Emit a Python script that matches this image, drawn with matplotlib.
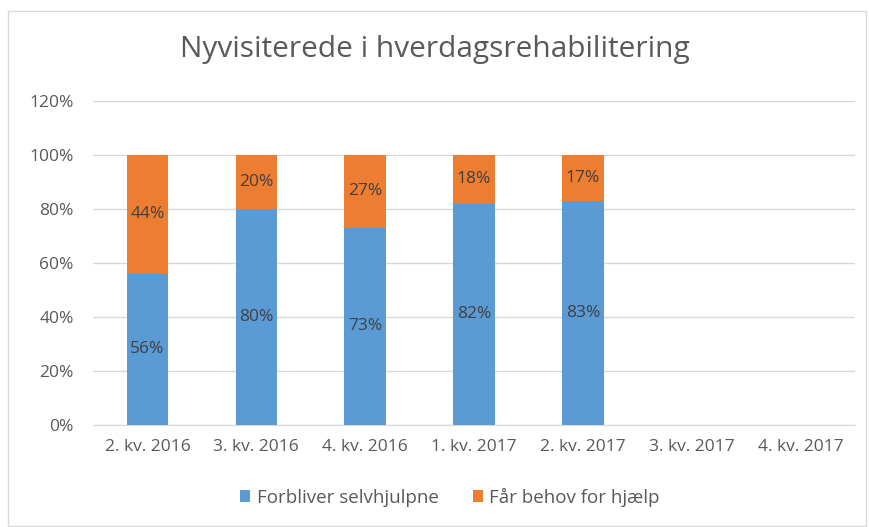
import matplotlib
matplotlib.use("Agg")
import matplotlib.pyplot as plt
from matplotlib.patches import Rectangle
import numpy as np

plt.rcParams['font.family'] = ['Open Sans', 'DejaVu Sans']

categories = ["2. kv. 2016", "3. kv. 2016", "4. kv. 2016", "1. kv. 2017",
              "2. kv. 2017", "3. kv. 2017", "4. kv. 2017"]
selvhjulpne = [56, 80, 73, 82, 83, np.nan, np.nan]
behov = [44, 20, 27, 18, 17, np.nan, np.nan]
series_names = ["Forbliver selvhjulpne", "Får behov for hjælp"]
title = "Nyvisiterede i hverdagsrehabilitering"

blue = "#5B9BD5"
orange = "#ED7D31"
txt = "#595959"

fig = plt.figure(figsize=(8.7, 5.27), dpi=100)
fig.patches.append(Rectangle((8/870, 1/527), 858/870, 515/527, transform=fig.transFigure,
                             fill=False, edgecolor="#D9D9D9", lw=1))
ax = fig.add_axes([93/870, 102/527, 762/870, 324/527])

x = np.arange(len(categories))
w = 0.38
ax.bar(x, selvhjulpne, w, color=blue, label=series_names[0], zorder=3)
ax.bar(x, behov, w, bottom=selvhjulpne, color=orange, label=series_names[1], zorder=3)

for i in range(len(categories)):
    if not np.isnan(selvhjulpne[i]):
        ax.text(x[i], selvhjulpne[i] / 2, f"{selvhjulpne[i]:.0f}%", ha="center", va="center",
                fontsize=12.5, color="#404040", zorder=4)
        ax.text(x[i], selvhjulpne[i] + behov[i] / 2, f"{behov[i]:.0f}%", ha="center", va="center",
                fontsize=12.5, color="#404040", zorder=4)

ax.set_xlim(-0.5, len(categories) - 0.5)
ax.set_ylim(0, 120)
ax.set_yticks(np.arange(0, 121, 20))
ax.set_yticklabels([f"{v}%" for v in range(0, 121, 20)])
ax.set_xticks(x)
ax.set_xticklabels(categories)
ax.yaxis.grid(True, color="#D9D9D9", lw=1, zorder=0)
for s in ["top", "right", "left"]:
    ax.spines[s].set_visible(False)
ax.spines["bottom"].set_color("#D9D9D9")
ax.tick_params(axis="both", length=0, colors=txt, labelsize=12.5)
ax.tick_params(axis="y", pad=14)
ax.tick_params(axis="x", pad=10)

fig.text(0.5, 1 - 50/527, title, ha="center", va="center", fontsize=21.5, color=txt)

fig.legend(loc="center", bbox_to_anchor=(450/870, 1 - 497/527), ncol=2, frameon=False,
           fontsize=13.5, labelcolor=txt, handlelength=0.55, handleheight=0.55,
           handletextpad=0.35, columnspacing=1.8)

fig.savefig("out.png", dpi=100)
